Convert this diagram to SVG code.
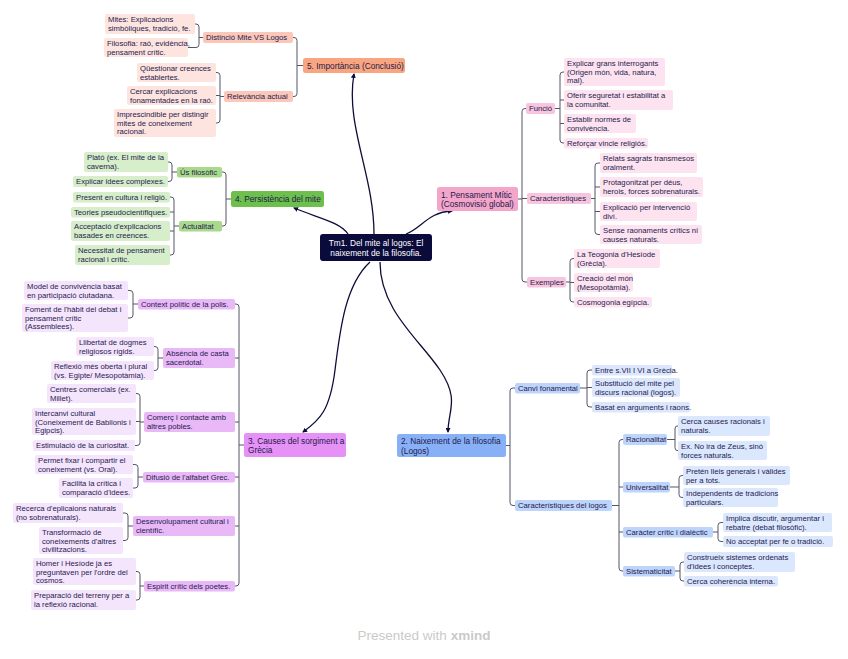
<svg xmlns="http://www.w3.org/2000/svg" width="848" height="659" viewBox="0 0 848 659">
<style>
text{font-family:"Liberation Sans",Arial,sans-serif;font-size:7.7px;fill:#1e1a4e}
.m{font-size:8.3px}
.w{fill:#ffffff;font-size:8.3px}
.br{fill:none;stroke:#55556a;stroke-width:1}
.ar{fill:none;stroke:#0d0d3a;stroke-width:1.3;marker-end:url(#ah)}
.o1{fill:#f9a680}.o2{fill:#fbc7b8}.o3{fill:#fde4df}
.g1{fill:#6dc04b}.g2{fill:#a9da8c}.g3{fill:#d6eeca}
.p1{fill:#e591f5}.p2{fill:#e9b8f7}.p3{fill:#f5e5fc}
.k1{fill:#f4a6ca}.k2{fill:#f7c6de}.k3{fill:#fce3ef}
.b1{fill:#88b0f6}.b2{fill:#bdd4fb}.b3{fill:#dae7fd}
.wm{font-size:13.5px;fill:#cacaca}
</style>
<defs>
<marker id="ah" viewBox="0 0 10 10" refX="8" refY="5" markerWidth="5" markerHeight="5" orient="auto" markerUnits="userSpaceOnUse">
<path d="M0,0 L10,5 L0,10 z" fill="#0d0d3a"/>
</marker>
</defs>
<rect width="848" height="659" fill="#ffffff"/>

<g id="connectors">
<path class="ar" d="M406,234 C422,228 428,212 452,211"/>
<path class="ar" d="M380,262 C380,310 420,340 440,370 S448,410 448,432"/>
<path class="ar" d="M370,262 C345,285 340,330 335,370 S320,420 303,432"/>
<path class="ar" d="M348,234 C340,222 318,218 294,208"/>
<path class="ar" d="M374,234 C374,175 345,125 354,74"/>

<path class="br" d="M303,65.5 H297 M293,37.5 H294 Q297,37.5 297,40.5 V93.5 Q297,96.5 294,96.5 H293"/>
<path class="br" d="M203,37.5 H199 M195,24 H196 Q199,24 199,27 V44.5 Q199,47.5 196,47.5 H188"/>
<path class="br" d="M224,96.5 H220 M216,72.5 H217 Q220,72.5 220,75.5 V120 Q220,123 217,123 H216 M220,95.5 H216"/>

<path class="br" d="M231,199 H226 M222,172 H223 Q226,172 226,175 V223 Q226,226 223,226 H222"/>
<path class="br" d="M177,172 H172 M168,162 H169 Q172,162 172,165 V178.5 Q172,181.5 169,181.5 H168"/>
<path class="br" d="M179,226 H174 M170,197 H171 Q174,197 174,200 V252 Q174,255 171,255 H170 M174,212 H170 M174,231 H170"/>

<path class="br" d="M244,445 H239 M235,304 H236 Q239,304 239,307 V583 Q239,586 236,586 H235 M239,358 H235 M239,422 H235 M239,477 H235 M239,526 H235"/>
<path class="br" d="M138,304 H133 M128,290.5 H130 Q133,290.5 133,293.5 V315 Q133,318 130,318 H128"/>
<path class="br" d="M163,358 H158 M154,346.5 H155 Q158,346.5 158,349.5 V367.5 Q158,370.5 155,370.5 H154"/>
<path class="br" d="M144,422 H140 M136,393.5 H137 Q140,393.5 140,396.5 V442.5 Q140,445.5 137,445.5 H135 M140,421.5 H136"/>
<path class="br" d="M143,477 H138 M133,464.5 H135 Q138,464.5 138,467.5 V485 Q138,488 135,488 H133"/>
<path class="br" d="M133,526 H128 M123,513 H125 Q128,513 128,516 V537.5 Q128,540.5 125,540.5 H123"/>
<path class="br" d="M144,586 H140 M136,571.5 H137 Q140,571.5 140,574.5 V597 Q140,600 137,600 H136"/>

<path class="br" d="M518,199 H522 M526,108.5 H525 Q522,108.5 522,111.5 V279 Q522,282 525,282 H527 M522,198.5 H527"/>
<path class="br" d="M555,108.5 H560 M564,72 H563 Q560,72 560,75 V140 Q560,143 563,143 H564 M560,100 H564 M560,123.5 H564"/>
<path class="br" d="M591,198.5 H595 M600,163 H598 Q595,163 595,166 V231.5 Q595,234.5 598,234.5 H600 M595,187 H600 M595,211.5 H600"/>
<path class="br" d="M566,282 H570 M574,258.5 H573 Q570,258.5 570,261.5 V299 Q570,302 573,302 H574 M570,282.5 H574"/>

<path class="br" d="M506,445.5 H510 M515,388 H513 Q510,388 510,391 V502.5 Q510,505.5 513,505.5 H515"/>
<path class="br" d="M580,388 H587 M592,370 H590 Q587,370 587,373 V404 Q587,407 590,407 H592 M587,387.5 H592"/>
<path class="br" d="M612,505.5 H619 M623,439.5 H622 Q619,439.5 619,442.5 V568 Q619,571 622,571 H623 M619,487 H623 M619,532 H623"/>
<path class="br" d="M667,439.5 H675 M678,426 H677 Q675,426 675,429 V447.5 Q675,450.5 677,450.5 H678"/>
<path class="br" d="M670,487 H679 M683,475.5 H682 Q679,475.5 679,478.5 V494.5 Q679,497.5 682,497.5 H683"/>
<path class="br" d="M713,532 H718 M723,522.5 H721 Q718,522.5 718,525.5 V538.5 Q718,541.5 721,541.5 H723"/>
<path class="br" d="M675,571 H680 M684,562 H683 Q680,562 680,565 V578 Q680,581 683,581 H684"/>
</g>

<g id="central"><rect x="320" y="234" width="112" height="27" rx="3" fill="#0b0b3b"/>
<text class="w" x="376" y="245.5" text-anchor="middle">Tm1. Del mite al logos: El</text>
<text class="w" x="376" y="255.5" text-anchor="middle">naixement de la filosofia.</text></g>

<g id="n5"><rect class="o1" x="303" y="58" width="102" height="15" rx="2.5"/><text class="m" x="307" y="68.5">5. Importància (Conclusió)</text></g>
<g id="n5a"><rect class="o2" x="203" y="32" width="90" height="11" rx="2"/><text x="206" y="40.2">Distinció Mite VS Logos</text></g>
<g id="n5b"><rect class="o2" x="224" y="91" width="69" height="11" rx="2"/><text x="227" y="99.2">Relevància actual</text></g>
<g id="n5a1"><rect class="o3" x="105" y="14" width="90" height="20" rx="2"/><text x="108" y="21.6">Mites: Explicacions</text><text x="108" y="30.5">simbòliques, tradició, fe.</text></g>
<g id="n5a2"><rect class="o3" x="104" y="38" width="84" height="19" rx="2"/><text x="107" y="45.6">Filosofia: raó, evidència,</text><text x="107" y="54.5">pensament crític.</text></g>
<g id="n5b1"><rect class="o3" x="137" y="63" width="79" height="19" rx="2"/><text x="140" y="70.6">Qüestionar creences</text><text x="140" y="79.5">establertes.</text></g>
<g id="n5b2"><rect class="o3" x="127" y="86" width="89" height="19" rx="2"/><text x="130" y="93.6">Cercar explicacions</text><text x="130" y="102.5">fonamentades en la raó.</text></g>
<g id="n5b3"><rect class="o3" x="114" y="109" width="102" height="28" rx="2"/><text x="117" y="116.6">Imprescindible per distingir</text><text x="117" y="125.5">mites de coneixement</text><text x="117" y="134.4">racional.</text></g>

<g id="n4"><rect class="g1" x="231" y="191" width="93" height="16" rx="2.5"/><text class="m" x="235" y="202">4. Persistència del mite</text></g>
<g id="n4a"><rect class="g2" x="177" y="167" width="45" height="10.5" rx="2"/><text x="180" y="175">Ús filosòfic</text></g>
<g id="n4b"><rect class="g2" x="179" y="221" width="43" height="10.5" rx="2"/><text x="182" y="229">Actualitat</text></g>
<g id="n4a1"><rect class="g3" x="84" y="152" width="84" height="20" rx="2"/><text x="87" y="159.6">Plató (ex. El mite de la</text><text x="87" y="168.5">caverna).</text></g>
<g id="n4a2"><rect class="g3" x="73" y="176" width="95" height="11" rx="2"/><text x="76" y="184.2">Explicar idees complexes.</text></g>
<g id="n4b1"><rect class="g3" x="73" y="192" width="97" height="10.5" rx="2"/><text x="76" y="200">Present en cultura i religió.</text></g>
<g id="n4b2"><rect class="g3" x="71" y="207" width="99" height="10.5" rx="2"/><text x="74" y="215">Teories pseudocientífiques.</text></g>
<g id="n4b3"><rect class="g3" x="71" y="221" width="99" height="20" rx="2"/><text x="74" y="228.6">Acceptació d'explicacions</text><text x="74" y="237.5">basades en creences.</text></g>
<g id="n4b4"><rect class="g3" x="75" y="245" width="95" height="20" rx="2"/><text x="78" y="252.6">Necessitat de pensament</text><text x="78" y="261.5">racional i crític.</text></g>

<g id="n3"><rect class="p1" x="244" y="433" width="102" height="24" rx="2.5"/><text class="m" x="248" y="443.5">3. Causes del sorgiment a</text><text class="m" x="248" y="453">Grècia</text></g>
<g id="n3a"><rect class="p2" x="138" y="299" width="97" height="10.5" rx="2"/><text x="141" y="307">Context polític de la polis.</text></g>
<g id="n3b"><rect class="p2" x="163" y="348" width="72" height="20" rx="2"/><text x="166" y="355.6">Absència de casta</text><text x="166" y="364.5">sacerdotal.</text></g>
<g id="n3c"><rect class="p2" x="144" y="412" width="91" height="20" rx="2"/><text x="147" y="419.6">Comerç i contacte amb</text><text x="147" y="428.5">altres pobles.</text></g>
<g id="n3d"><rect class="p2" x="143" y="472" width="92" height="10.5" rx="2"/><text x="146" y="480">Difusió de l'alfabet Grec.</text></g>
<g id="n3e"><rect class="p2" x="133" y="516" width="102" height="20" rx="2"/><text x="136" y="523.6">Desenvolupament cultural i</text><text x="136" y="532.5">científic.</text></g>
<g id="n3f"><rect class="p2" x="144" y="581" width="91" height="10.5" rx="2"/><text x="147" y="589">Espirit crític dels poetes.</text></g>
<g id="n3a1"><rect class="p3" x="24" y="281" width="104" height="19" rx="2"/><text x="27" y="288.6">Model de convivència basat</text><text x="27" y="297.5">en participació ciutadana.</text></g>
<g id="n3a2"><rect class="p3" x="22" y="304" width="106" height="28" rx="2"/><text x="25" y="311.6">Foment de l'hàbit del debat i</text><text x="25" y="320.5">pensament crític</text><text x="25" y="329.4">(Assemblees).</text></g>
<g id="n3b1"><rect class="p3" x="76" y="337" width="78" height="19" rx="2"/><text x="79" y="344.6">Llibertat de dogmes</text><text x="79" y="353.5">religiosos rígids.</text></g>
<g id="n3b2"><rect class="p3" x="51" y="361" width="103" height="19" rx="2"/><text x="54" y="368.6">Reflexió més oberta i plural</text><text x="54" y="377.5">(vs. Egipte/ Mesopotàmia).</text></g>
<g id="n3c1"><rect class="p3" x="47" y="384" width="89" height="19" rx="2"/><text x="50" y="391.6">Centres comercials (ex.</text><text x="50" y="400.5">Millet).</text></g>
<g id="n3c2"><rect class="p3" x="32" y="408" width="104" height="27" rx="2"/><text x="35" y="415.6">Intercanvi cultural</text><text x="35" y="424.5">(Coneixement de Babilonis i</text><text x="35" y="433.4">Egipcis).</text></g>
<g id="n3c3"><rect class="p3" x="33" y="440" width="102" height="11" rx="2"/><text x="36" y="448">Estimulació de la curiositat.</text></g>
<g id="n3d1"><rect class="p3" x="35" y="455" width="98" height="19" rx="2"/><text x="38" y="462.6">Permet fixar i compartir el</text><text x="38" y="471.5">coneixement (vs. Oral).</text></g>
<g id="n3d2"><rect class="p3" x="59" y="478" width="74" height="20" rx="2"/><text x="62" y="485.6">Facilita la crítica i</text><text x="62" y="494.5">comparació d'idees.</text></g>
<g id="n3e1"><rect class="p3" x="13" y="503" width="110" height="20" rx="2"/><text x="16" y="510.6">Recerca d'eplicaions naturals</text><text x="16" y="519.5">(no sobrenaturals).</text></g>
<g id="n3e2"><rect class="p3" x="39" y="527" width="84" height="27" rx="2"/><text x="42" y="534.6">Transformació de</text><text x="42" y="543.5">coneixements d'altres</text><text x="42" y="552.4">civilitzacions.</text></g>
<g id="n3f1"><rect class="p3" x="33" y="558" width="103" height="27" rx="2"/><text x="36" y="565.6">Homer i Hesíode ja es</text><text x="36" y="574.5">preguntaven per l'ordre del</text><text x="36" y="583.4">cosmos.</text></g>
<g id="n3f2"><rect class="p3" x="31" y="590" width="105" height="20" rx="2"/><text x="34" y="597.6">Preparació del terreny per a</text><text x="34" y="606.5">la reflexió racional.</text></g>

<g id="n1"><rect class="k1" x="437" y="187" width="81" height="24" rx="2.5"/><text class="m" x="441" y="197.5">1. Pensament Mític</text><text class="m" x="441" y="207">(Cosmovisió global)</text></g>
<g id="n1a"><rect class="k2" x="526" y="103" width="29" height="11" rx="2"/><text x="529" y="111.2">Funció</text></g>
<g id="n1b"><rect class="k2" x="527" y="193" width="64" height="11" rx="2"/><text x="530" y="201.2">Característiques</text></g>
<g id="n1c"><rect class="k2" x="527" y="277" width="39" height="10.5" rx="2"/><text x="530" y="285">Exemples</text></g>
<g id="n1a1"><rect class="k3" x="564" y="58" width="101" height="28" rx="2"/><text x="567" y="65.6">Explicar grans interrogants</text><text x="567" y="74.5">(Origen món, vida, natura,</text><text x="567" y="83.4">mal).</text></g>
<g id="n1a2"><rect class="k3" x="564" y="90" width="109" height="20" rx="2"/><text x="567" y="97.6">Oferir seguretat i estabilitat a</text><text x="567" y="106.5">la comunitat.</text></g>
<g id="n1a3"><rect class="k3" x="564" y="114" width="72" height="19" rx="2"/><text x="567" y="121.6">Establir normes de</text><text x="567" y="130.5">convivència.</text></g>
<g id="n1a4"><rect class="k3" x="564" y="138" width="84" height="10.5" rx="2"/><text x="567" y="146">Reforçar vincle religiós.</text></g>
<g id="n1b1"><rect class="k3" x="600" y="153" width="97" height="20" rx="2"/><text x="603" y="160.6">Relats sagrats transmesos</text><text x="603" y="169.5">oralment.</text></g>
<g id="n1b2"><rect class="k3" x="600" y="177" width="103" height="20" rx="2"/><text x="603" y="184.6">Protagonitzat per déus,</text><text x="603" y="193.5">herois, forces sobrenaturals.</text></g>
<g id="n1b3"><rect class="k3" x="600" y="202" width="97" height="19" rx="2"/><text x="603" y="209.6">Explicació per intervenció</text><text x="603" y="218.5">diví.</text></g>
<g id="n1b4"><rect class="k3" x="600" y="225" width="102" height="19" rx="2"/><text x="603" y="232.6">Sense raonaments crítics ni</text><text x="603" y="241.5">causes naturals.</text></g>
<g id="n1c1"><rect class="k3" x="574" y="249" width="86" height="19" rx="2"/><text x="577" y="256.6">La Teogonia d'Hesíode</text><text x="577" y="265.5">(Grècia).</text></g>
<g id="n1c2"><rect class="k3" x="574" y="273" width="59" height="19" rx="2"/><text x="577" y="280.6">Creació del món</text><text x="577" y="289.5">(Mesopotàmia).</text></g>
<g id="n1c3"><rect class="k3" x="574" y="297" width="78" height="10.5" rx="2"/><text x="577" y="305">Cosmogonia egípcia.</text></g>

<g id="n2"><rect class="b1" x="397" y="434" width="109" height="23" rx="2.5"/><text class="m" x="401" y="444">2. Naixement de la filosofia</text><text class="m" x="401" y="453.5">(Logos)</text></g>
<g id="n2a"><rect class="b2" x="515" y="383" width="65" height="10.5" rx="2"/><text x="518" y="391">Canvi fonamental</text></g>
<g id="n2b"><rect class="b2" x="515" y="500" width="97" height="11" rx="2"/><text x="518" y="508.2">Característiques del logos</text></g>
<g id="n2a1"><rect class="b3" x="592" y="365" width="80" height="10.5" rx="2"/><text x="595" y="373">Entre s.VII I VI a Grècia.</text></g>
<g id="n2a2"><rect class="b3" x="592" y="378" width="88" height="19" rx="2"/><text x="595" y="385.6">Substitució del mite pel</text><text x="595" y="394.5">discurs racional (logos).</text></g>
<g id="n2a3"><rect class="b3" x="592" y="402" width="98" height="10.5" rx="2"/><text x="595" y="410">Basat en arguments i raons.</text></g>
<g id="n2b1"><rect class="b2" x="623" y="434" width="44" height="11" rx="2"/><text x="626" y="442.2">Racionalitat</text></g>
<g id="n2b2"><rect class="b2" x="623" y="482" width="47" height="10.5" rx="2"/><text x="626" y="490">Universalitat</text></g>
<g id="n2b3"><rect class="b2" x="623" y="527" width="90" height="10.5" rx="2"/><text x="626" y="535">Caràcter crític i dialèctic</text></g>
<g id="n2b4"><rect class="b2" x="623" y="566" width="52" height="10.5" rx="2"/><text x="626" y="574">Sistematicitat</text></g>
<g id="n2b1a"><rect class="b3" x="678" y="416" width="92" height="20" rx="2"/><text x="681" y="423.6">Cerca causes racionals i</text><text x="681" y="432.5">naturals.</text></g>
<g id="n2b1b"><rect class="b3" x="678" y="441" width="89" height="19" rx="2"/><text x="681" y="448.6">Ex. No ira de Zeus, sinó</text><text x="681" y="457.5">forces naturals.</text></g>
<g id="n2b2a"><rect class="b3" x="683" y="466" width="107" height="19" rx="2"/><text x="686" y="473.6">Pretén lleis generals i vàlides</text><text x="686" y="482.5">per a tots.</text></g>
<g id="n2b2b"><rect class="b3" x="683" y="488" width="95" height="19" rx="2"/><text x="686" y="495.6">Independents de tradicions</text><text x="686" y="504.5">particulars.</text></g>
<g id="n2b3a"><rect class="b3" x="723" y="513" width="109" height="19" rx="2"/><text x="726" y="520.6">Implica discutir, argumentar i</text><text x="726" y="529.5">rebatre (debat filosòfic).</text></g>
<g id="n2b3b"><rect class="b3" x="723" y="536" width="110" height="11" rx="2"/><text x="726" y="544">No acceptat per fe o tradició.</text></g>
<g id="n2b4a"><rect class="b3" x="684" y="552" width="111" height="20" rx="2"/><text x="687" y="559.6">Construeix sistemes ordenats</text><text x="687" y="568.5">d'idees i conceptes.</text></g>
<g id="n2b4b"><rect class="b3" x="684" y="576" width="94" height="10.5" rx="2"/><text x="687" y="584">Cerca coherència interna.</text></g>

<text class="wm" x="424" y="640" text-anchor="middle">Presented with <tspan font-weight="bold">xmind</tspan></text>
</svg>
